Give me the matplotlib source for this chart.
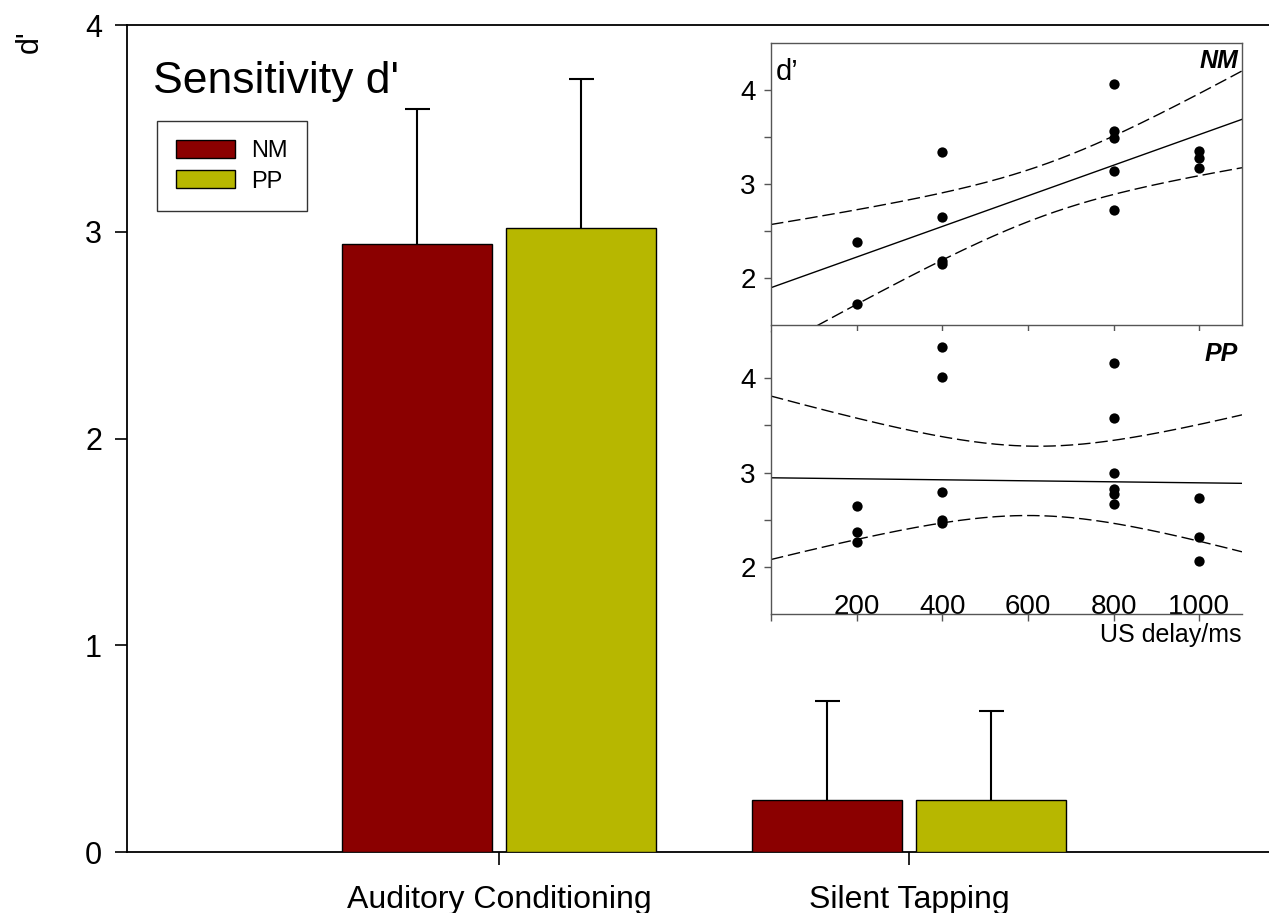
import numpy as np
import matplotlib
matplotlib.use("Agg")
import matplotlib.pyplot as plt
from matplotlib.patches import Patch

plt.rcParams['font.family'] = ['Liberation Sans', 'DejaVu Sans']

# main bar data
conditions = ["Auditory Conditioning", "Silent Tapping"]
groups = ["NM", "PP"]
bar_colors = ["#8b0000", "#b7b700"]
nm_mean = [2.94, 0.25]
nm_err = [0.655, 0.48]
pp_mean = [3.02, 0.25]
pp_err = [0.718, 0.43]

# inset scatter data (US delay in ms vs d')
nm_delay = [200, 200, 400, 400, 400, 400, 800, 800, 800, 800, 800, 1000, 1000, 1000]
nm_dprime = [2.38, 1.72, 3.34, 2.65, 2.18, 2.15, 4.06, 3.56, 3.49, 3.14, 2.72, 3.35, 3.28, 3.17]
pp_delay = [200, 200, 200, 400, 400, 400, 400, 400, 800, 800, 800, 800, 800, 800, 1000, 1000, 1000]
pp_dprime = [2.65, 2.37, 2.27, 4.33, 4.01, 2.80, 2.50, 2.47, 4.16, 3.58, 3.00, 2.83, 2.77, 2.67,
             2.73, 2.32, 2.06]
delay_ticks = [0, 200, 400, 600, 800, 1000]

# two-sided 95% t quantiles by degrees of freedom
t95 = {12: 2.1788, 15: 2.1314}


def fit_band(x, y, xs):
    """Linear fit with 95% confidence band for the mean."""
    x = np.asarray(x, float)
    y = np.asarray(y, float)
    n = len(x)
    slope, icpt = np.polyfit(x, y, 1)
    resid = y - (slope * x + icpt)
    s = np.sqrt(np.sum(resid ** 2) / (n - 2))
    sxx = np.sum((x - x.mean()) ** 2)
    fit = slope * xs + icpt
    half = t95[n - 2] * s * np.sqrt(1.0 / n + (xs - x.mean()) ** 2 / sxx)
    return fit, fit - half, fit + half


fig = plt.figure(figsize=(12.69, 9.13), dpi=100)

# ---- main bar chart
ax = fig.add_axes([127 / 1269, 61 / 913, 1 - 127 / 1269, 827 / 913])
r = np.arange(len(conditions))
width = 0.366
offset = 0.2
for means, errs, col, lab, sgn in [(nm_mean, nm_err, bar_colors[0], groups[0], -1),
                                   (pp_mean, pp_err, bar_colors[1], groups[1], 1)]:
    pos = r + sgn * offset
    eb = ax.errorbar(pos, means, yerr=[np.zeros(len(errs)), errs], fmt='none', ecolor='black',
                     elinewidth=1.5, capsize=9, capthick=1.5, zorder=2)
    # only the upper cap is drawn
    eb[1][0].set_visible(False)
    ax.bar(pos, means, width=width, color=col, edgecolor='black', linewidth=1, label=lab, zorder=3)

ax.set_xlim(-0.907, 1.878)
ax.set_ylim(0, 4)
ax.set_yticks([0, 1, 2, 3, 4])
ax.set_xticks(r)
ax.set_xticklabels(conditions)
ax.spines['right'].set_visible(False)
for sp in ['left', 'bottom', 'top']:
    ax.spines[sp].set_linewidth(1.3)
ax.tick_params(axis='y', direction='out', length=9, width=1.2, labelsize=22, pad=9)
ax.tick_params(axis='x', direction='out', length=9, width=1.2, labelsize=23, pad=15)

ax.text(0.0228, 0.918, "Sensitivity d'", transform=ax.transAxes, fontsize=32, va='baseline', ha='left')

handles = [Patch(facecolor=bar_colors[i], edgecolor='black', linewidth=1) for i in range(2)]
leg = ax.legend(handles, groups, loc='upper left', bbox_to_anchor=(0.0263, 0.884), borderaxespad=0,
                fancybox=False, edgecolor='#333333', framealpha=1, fontsize=17, handlelength=2.5,
                handleheight=0.8, labelspacing=0.35, borderpad=0.8, handletextpad=0.7)
leg.get_frame().set_linewidth(1)

fig.text(30 / 1269, 1 - 42 / 913, "d'", rotation=90, ha='center', va='center', fontsize=22)

# ---- inset panels
xs = np.linspace(0, 1100, 200)
ax1 = fig.add_axes([771 / 1269, (913 - 325) / 913, 471 / 1269, 282.3 / 913])
ax2 = fig.add_axes([771 / 1269, (913 - 614.3) / 913, 471 / 1269, 283.3 / 913])

for a, dx, dy in [(ax1, nm_delay, nm_dprime), (ax2, pp_delay, pp_dprime)]:
    fit, lo, hi = fit_band(dx, dy, xs)
    a.plot(xs, fit, color='black', lw=1)
    a.plot(xs, lo, color='black', lw=1, dashes=(9, 3.5))
    a.plot(xs, hi, color='black', lw=1, dashes=(9, 3.5))
    a.scatter(dx, dy, s=55, color='black', zorder=5, linewidths=0)
    a.set_xlim(0, 1100)
    a.set_ylim(1.5, 4.5)
    a.set_yticks([2, 3, 4])
    a.set_yticks([2.5, 3.5], minor=True)
    a.tick_params(axis='y', which='both', direction='out', length=5, width=1, labelsize=20, pad=6,
                  color='#555555')
    a.set_xticks(delay_ticks)
    for sp in a.spines.values():
        sp.set_color('#555555')
        sp.set_linewidth(1)

ax1.tick_params(axis='x', direction='out', length=5, width=1, labelbottom=False, color='#555555')
ax2.spines['top'].set_visible(False)
ax2.spines['right'].set_visible(False)
ax2.set_xticklabels([''] + [str(d) for d in delay_ticks[1:]], va='baseline')
ax2.tick_params(axis='x', direction='out', length=5, width=1, labelsize=20, pad=-5.5, color='#555555')

ax1.text(0.011, 0.868, "d\u2019", transform=ax1.transAxes, fontsize=21, ha='left', va='baseline')
ax1.text(0.9915, 0.91, "NM", transform=ax1.transAxes, fontsize=18, ha='right', va='baseline',
         fontweight='bold', fontstyle='italic')
ax2.text(0.9915, 0.895, "PP", transform=ax2.transAxes, fontsize=18, ha='right', va='baseline',
         fontweight='bold', fontstyle='italic')
ax2.text(1.0, -0.0967, "US delay/ms", transform=ax2.transAxes, fontsize=18, ha='right', va='baseline')

fig.savefig("out.png", dpi=100)
